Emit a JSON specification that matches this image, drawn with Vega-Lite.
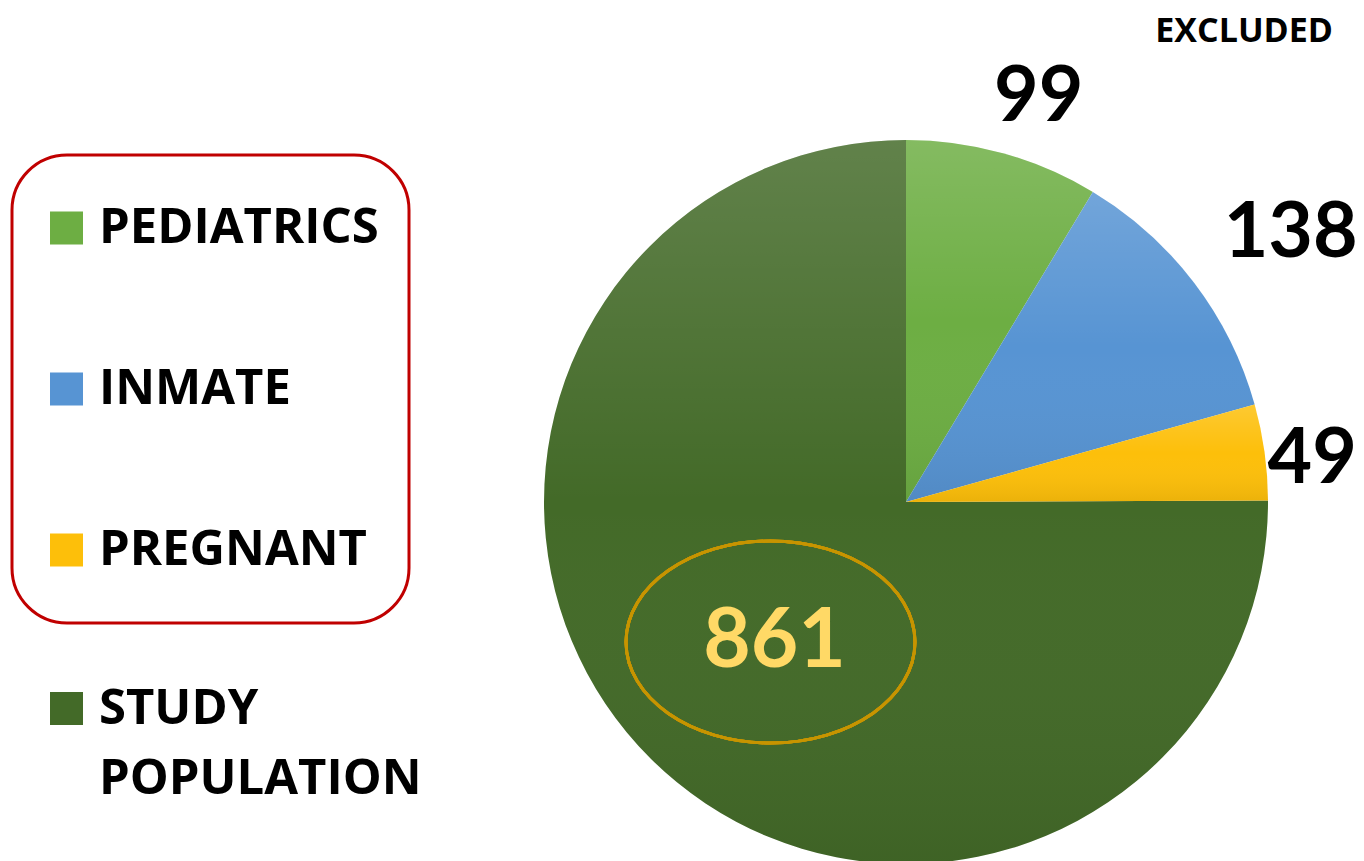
{
  "$schema": "https://vega.github.io/schema/vega-lite/v6.json",
  "width": 854,
  "height": 718,
  "autosize": {"type": "none"},
  "padding": {"left": 479, "top": 143, "right": 31, "bottom": 0},
  "background": "white",
  "config": {
    "view": {"stroke": null},
    "font": "Open Sans",
    "legend": {"strokeWidth": 3},
    "style": {"guide-label": {"lineHeight": 70}}
  },
  "title": {
    "text": "EXCLUDED",
    "anchor": "end",
    "frame": "group",
    "fontSize": 34,
    "fontWeight": "bold",
    "font": "Open Sans",
    "color": "black",
    "offset": 10
  },
  "data": {
    "values": [
      {"category": "PEDIATRICS", "count": 99, "order": 1},
      {"category": "INMATE", "count": 138, "order": 2},
      {"category": "PREGNANT", "count": 49, "order": 3},
      {"category": "STUDY POPULATION", "count": 861, "order": 4}
    ]
  },
  "transform": [
    {"stack": "count", "groupby": [], "sort": [{"field": "order", "order": "ascending"}], "as": ["start", "end"]}
  ],
  "layer": [
    {
      "transform": [{"filter": "datum.order === 4"}],
      "mark": {"type": "arc", "outerRadius": 362},
      "encoding": {
        "theta": {"field": "start", "type": "quantitative"},
        "theta2": {"field": "end"},
        "color": {
          "datum": "STUDY POPULATION",
          "type": "nominal",
          "scale": {"domain": ["STUDY POPULATION"], "range": ["#436a28"]},
          "legend": {
            "orient": "none",
            "legendX": -437,
            "legendY": 549,
            "title": null,
            "padding": 0,
            "symbolType": "square",
            "symbolSize": 1089,
            "symbolStrokeWidth": 0,
            "clipHeight": 33,
            "labelFont": "Open Sans",
            "labelFontSize": 49,
            "labelFontWeight": "bold",
            "labelColor": "black",
            "labelOffset": 8,
            "labelLimit": 0,
            "labelExpr": "['STUDY', 'POPULATION']"
          }
        }
      }
    },
    {
      "transform": [{"filter": "datum.order <= 3"}],
      "mark": {"type": "arc", "outerRadius": 362},
      "encoding": {
        "theta": {"field": "start", "type": "quantitative"},
        "theta2": {"field": "end"},
        "color": {
          "field": "category",
          "type": "nominal",
          "scale": {"domain": ["PEDIATRICS", "INMATE", "PREGNANT"], "range": ["#6dae43", "#5794d3", "#fdbf0a"]},
          "legend": {
            "orient": "none",
            "legendX": -467,
            "legendY": 12,
            "title": null,
            "padding": 30,
            "symbolType": "square",
            "symbolSize": 1089,
            "symbolStrokeWidth": 0,
            "clipHeight": 86,
            "rowPadding": 75,
            "labelFont": "Open Sans",
            "labelFontSize": 49,
            "labelFontWeight": "bold",
            "labelColor": "black",
            "labelOffset": 8,
            "labelLimit": 0,
            "strokeColor": "#c00000",
            "cornerRadius": 55
          }
        }
      }
    },
    {
      "mark": {
        "type": "arc",
        "outerRadius": 362,
        "color": {
          "gradient": "linear",
          "x1": 0, "y1": 0, "x2": 0, "y2": 1,
          "stops": [
            {"offset": 0, "color": "rgba(255,255,255,0.16)"},
            {"offset": 0.5, "color": "rgba(255,255,255,0)"},
            {"offset": 1, "color": "rgba(0,0,0,0.07)"}
          ]
        }
      },
      "encoding": {
        "theta": {"field": "start", "type": "quantitative"},
        "theta2": {"field": "end"}
      }
    },
    {
      "mark": {
        "type": "point",
        "filled": false,
        "size": 40000,
        "stroke": "#c79400",
        "strokeWidth": 3,
        "opacity": 1,
        "shape": "M 0.09,1.4 C 0.09,1.958 -0.557,2.41 -1.355,2.41 C -2.153,2.41 -2.8,1.958 -2.8,1.4 C -2.8,0.842 -2.153,0.39 -1.355,0.39 C -0.557,0.39 0.09,0.842 0.09,1.4 Z"
      },
      "encoding": {}
    },
    {
      "transform": [{"filter": "datum.order <= 3"}],
      "mark": {"type": "text", "font": "Lato", "fontSize": 77, "fontWeight": "bold", "color": "black", "dx": 17, "dy": 12},
      "encoding": {
        "theta": {"field": "count", "type": "quantitative", "stack": true},
        "order": {"field": "order", "type": "quantitative"},
        "radius": {"field": "count", "type": "quantitative", "scale": {"type": "linear", "zero": false, "range": [393, 462]}},
        "text": {"field": "count", "type": "quantitative"}
      }
    },
    {
      "mark": {"type": "text", "font": "Lato", "fontSize": 82, "fontWeight": "bold", "color": "#ffd966", "radius": 192, "dx": 4, "dy": 4},
      "encoding": {
        "theta": {"field": "count", "type": "quantitative", "stack": true},
        "order": {"field": "order", "type": "quantitative"},
        "text": {"condition": {"test": "datum.order === 4", "field": "count", "type": "quantitative"}, "value": ""}
      }
    }
  ],
  "resolve": {"scale": {"color": "independent"}}
}
